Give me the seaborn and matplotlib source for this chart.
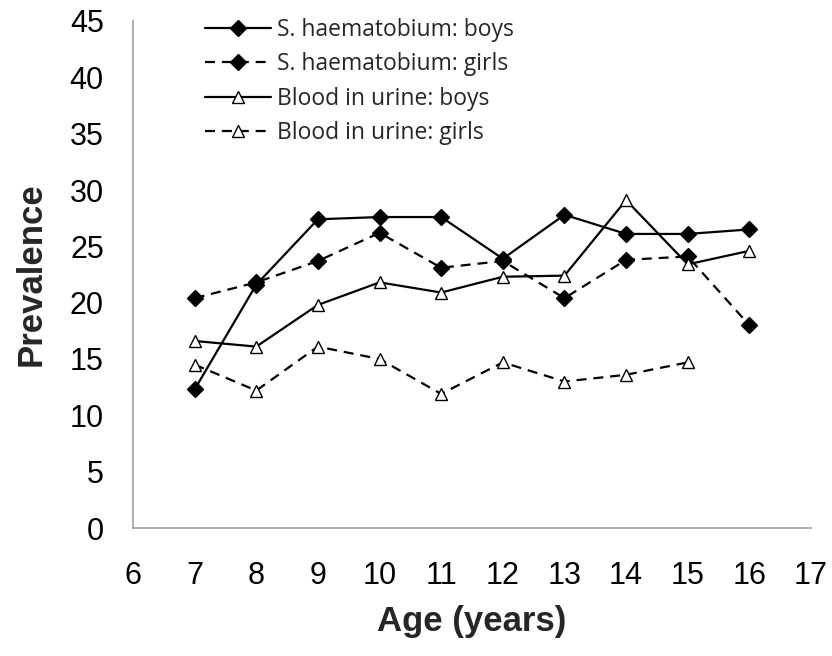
import matplotlib
matplotlib.use('Agg')
import matplotlib.pyplot as plt
import seaborn as sns
import numpy as np
import pandas as pd

# Prevalence by age
ages = [7, 8, 9, 10, 11, 12, 13, 14, 15, 16]
haem_boys = [12.3, 21.6, 27.4, 27.6, 27.6, 23.9, 27.8, 26.1, 26.1, 26.5]
haem_girls = [20.4, 21.8, 23.7, 26.2, 23.1, 23.7, 20.4, 23.8, 24.1, 18.0]
blood_boys = [16.6, 16.1, 19.8, 21.8, 20.9, 22.3, 22.4, 29.1, 23.4, 24.6]
blood_girls = [14.5, 12.2, 16.1, 15.0, 11.9, 14.7, 13.0, 13.6, 14.7, np.nan]

series = [
    ("S. haematobium: boys", haem_boys, 'D', 'black', '-'),
    ("S. haematobium: girls", haem_girls, 'D', 'black', '--'),
    ("Blood in urine: boys", blood_boys, '^', 'white', '-'),
    ("Blood in urine: girls", blood_girls, '^', 'white', '--'),
]

sns.set_style("white")
plt.rcParams['font.family'] = ['Liberation Sans', 'DejaVu Sans']

fig = plt.figure(figsize=(8.32, 6.56), dpi=100)
ax = fig.add_axes([133 / 832, 1 - 528 / 656, (811 - 133) / 832, (528 - 21) / 656])

for label, vals, marker, face, ls in series:
    df = pd.DataFrame({'age': ages, 'prev': vals}).dropna()
    sns.lineplot(data=df, x='age', y='prev', ax=ax, color='black',
                 linewidth=1.6, marker=marker, markersize=8 if marker == 'D' else 9,
                 markerfacecolor=face, markeredgecolor='black', markeredgewidth=1.0,
                 label=label)
    line = ax.get_lines()[-1]
    line.set_linestyle(ls)
    if ls == '--':
        line.set_dashes((4.5, 3.1))

ax.set_xlim(6, 17)
ax.set_ylim(0, 45)
ax.set_xticks(range(6, 18))
ax.set_yticks(range(0, 46, 5))
ax.tick_params(axis='both', length=0, labelsize=22, colors='black')
ax.tick_params(axis='y', pad=21)
ax.tick_params(axis='x', pad=24)

for s in ['top', 'right']:
    ax.spines[s].set_visible(False)
for s in ['left', 'bottom']:
    ax.spines[s].set_color('#a0a0a0')
    ax.spines[s].set_linewidth(1.2)

ax.set_xlabel('Age (years)', fontsize=25, fontweight='bold', labelpad=10)
ax.set_ylabel('Prevalence', fontsize=25, fontweight='bold', labelpad=16)

leg = ax.legend(loc='upper left', bbox_to_anchor=(205 / 832, 1 - 18 / 656),
                bbox_transform=fig.transFigure, frameon=False, borderpad=0,
                borderaxespad=0, handlelength=2.9, handletextpad=0.25,
                labelspacing=0.45,
                prop={'family': ['Open Sans', 'DejaVu Sans'], 'size': 16.5})

fig.savefig('out.png', dpi=100)
